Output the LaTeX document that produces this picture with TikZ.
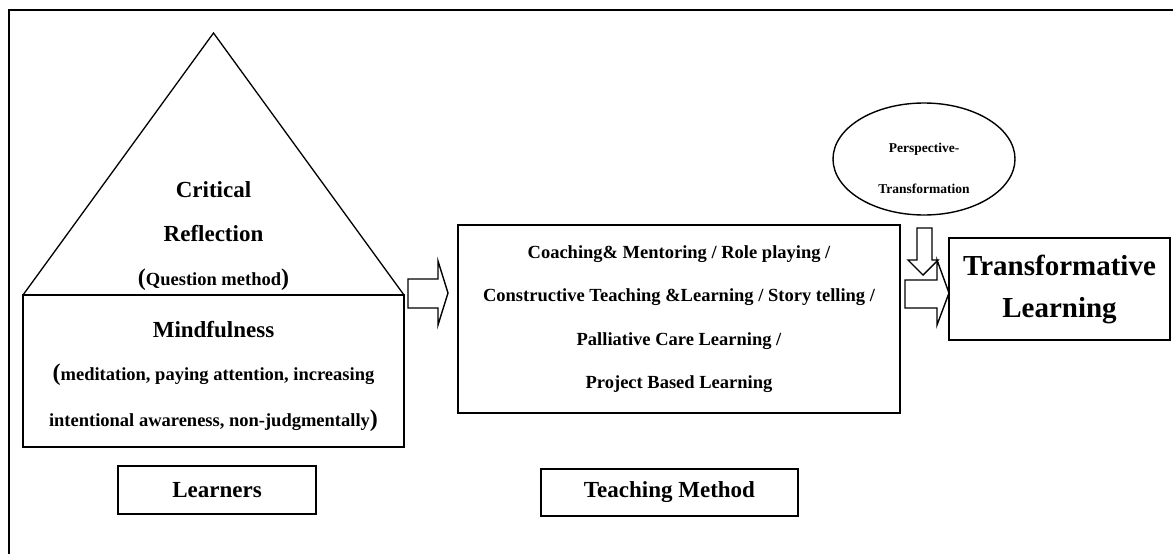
\documentclass[tikz,border=0pt]{standalone}
\usepackage{fontspec}
\setmainfont{Liberation Serif}
\usetikzlibrary{shapes.geometric, positioning}
\tikzset{
	box/.style={draw, rectangle, line width=1.6pt, inner sep=0pt},
	blockarrow/.style={draw, line width=1.4pt, fill=white, line join=miter},
	txt/.style={anchor=base, inner sep=0pt},
}
\newcommand{\bigparen}[1]{{\fontsize{24}{24}\selectfont #1}}

\begin{document}
\begin{tikzpicture}[x=1pt, y=-1pt]
	\useasboundingbox (0,0) rectangle (1173,554);
	\draw [line width=1.8pt] (9,560) -- (9,10) -- (1180,10);

	% learners: triangle on top of the box
	\coordinate (apex) at (213.5,33);
	\coordinate (baseL) at (23,295);
	\coordinate (baseR) at (404,295);
	\draw [line width=1.3pt] (baseL) -- (apex) -- (baseR);
	\node [box, minimum width=381pt, minimum height=152pt] (mind) at (213.5,371) {};
	\node [txt, font=\bfseries\fontsize{23}{28}\selectfont] (crit) at (213.5,197) {Critical};
	\node [txt, font=\bfseries\fontsize{23}{28}\selectfont] (refl) at (213.5,241) {Reflection};
	\node [txt, font=\bfseries\fontsize{18.5}{22}\selectfont] (quest) at (213.5,285) {\bigparen{(}Question method\bigparen{)}};
	\node [txt, font=\bfseries\fontsize{23}{28}\selectfont] (mindt) at (213.5,337) {Mindfulness};
	\node [txt, font=\bfseries\fontsize{18.5}{22}\selectfont] (medi) at (213.5,380) {\bigparen{(}meditation, paying attention, increasing};
	\node [txt, font=\bfseries\fontsize{18.5}{22}\selectfont] (inten) at (213.5,426) {intentional awareness, non-judgmentally\bigparen{)}};

	% teaching methods
	\node [box, minimum width=442pt, minimum height=188pt, align=center, font=\bfseries\fontsize{18.5}{43.5}\selectfont] (teach) at (679,319)
		{Coaching\& Mentoring / Role playing /\\ Constructive Teaching \&Learning / Story telling /\\ Palliative Care Learning /\\ Project Based Learning};

	% perspective transformation
	\node [draw, ellipse, line width=1.4pt, minimum width=182pt, minimum height=112pt, inner sep=0pt] (persp) at (924,159) {};
	\node [txt, font=\bfseries\fontsize{13.5}{16}\selectfont] (perspa) at (924,152) {Perspective-};
	\node [txt, font=\bfseries\fontsize{13.5}{16}\selectfont] (perspb) at (924,193) {Transformation};

	\node [box, minimum width=221pt, minimum height=102pt, align=center, font=\bfseries\fontsize{29}{42}\selectfont] (transf) at (1059.5,289) {Transformative\\Learning};

	% block arrows
	\draw [blockarrow] (408,279) -- (438,279) -- (438,261) -- (448,293) -- (438,325) -- (438,308) -- (408,308) -- cycle;
	\draw [blockarrow] (905,280) -- (937,280) -- (937,260) -- (949,293) -- (937,325) -- (937,308) -- (905,308) -- cycle;
	\draw [blockarrow] (917,228) -- (932,228) -- (932,260) -- (938,260) -- (923,275) -- (908,260) -- (917,260) -- cycle;

	% captions
	\node [box, minimum width=198pt, minimum height=48pt, font=\bfseries\fontsize{23}{28}\selectfont] (learn) at (217,490) {Learners};
	\node [box, minimum width=257pt, minimum height=47pt, font=\bfseries\fontsize{23}{28}\selectfont] (tmeth) at (669.5,492.5) {Teaching Method};
\end{tikzpicture}
\end{document}
